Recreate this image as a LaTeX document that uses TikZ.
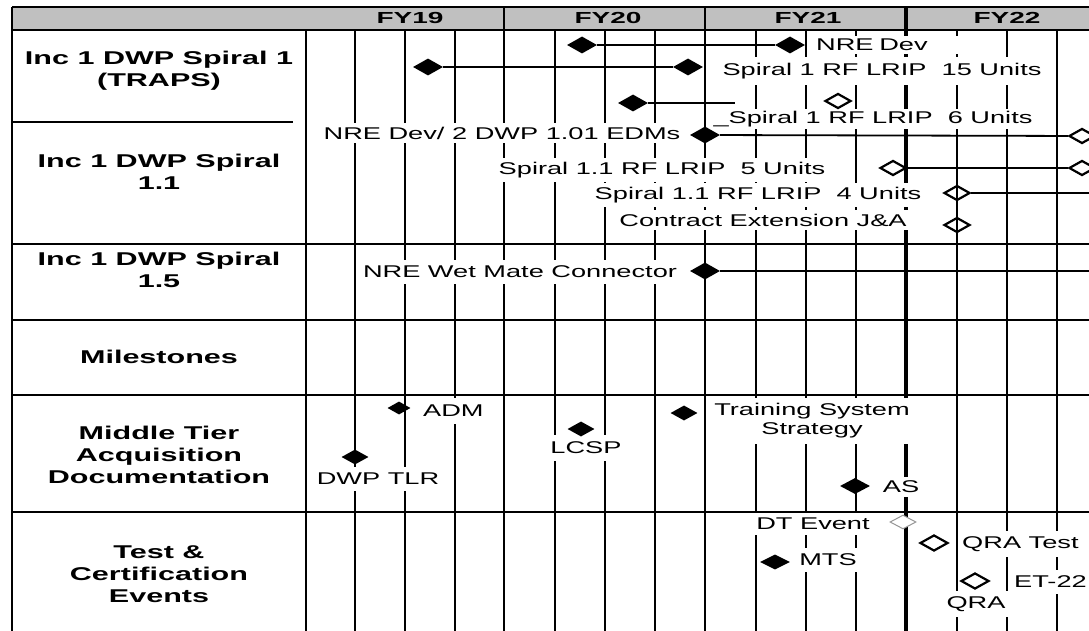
\documentclass[tikz,border=0pt]{standalone}
\usepackage{fontspec}
\setmainfont{Liberation Sans}
\newfontfamily\lblfam{Liberation Sans}[FakeStretch=1.6]
\newfontfamily\rowfam{Liberation Sans}[FakeStretch=1.65]
\newfontfamily\hdrfam{Liberation Sans}[FakeStretch=1.75]
\usetikzlibrary{shapes.geometric}
\definecolor{hdrgray}{RGB}{192,192,192}
\definecolor{dtgray}{RGB}{150,150,150}
\tikzset{
  thingrid/.style={line width=1.3pt},
  boldgrid/.style={line width=2.7pt},
  xboldgrid/.style={line width=4pt},
  rowline/.style={line width=1.3pt},
  fdia/.style={diamond, fill=black, inner sep=0pt, minimum width=30pt, minimum height=17pt},
  sdia/.style={diamond, fill=black, inner sep=0pt, minimum width=27pt, minimum height=15pt},
  odia/.style={diamond, draw=black, line width=2.2pt, inner sep=0pt, minimum width=26pt, minimum height=15pt},
  gdia/.style={diamond, draw=dtgray, fill=white, line width=1pt, inner sep=0pt, minimum width=26pt, minimum height=14pt},
  lbl/.style={font=\lblfam\fontsize{17}{19}\selectfont, fill=white, inner xsep=4pt, inner ysep=5pt, align=center},
  rowlbl/.style={font=\rowfam\bfseries\fontsize{18.5}{22}\selectfont, align=center, inner sep=0pt},
  hdr/.style={font=\hdrfam\bfseries\fontsize{16}{18}\selectfont, inner sep=0pt},
  bar/.style={line width=1.8pt},
}
\begin{document}
\begin{tikzpicture}[x=1pt,y=-1pt]
\useasboundingbox (0,0) rectangle (1089,631);
\clip (0,0) rectangle (1089,631);
\fill[white] (0,0) rectangle (1089,631);
% header
\fill[hdrgray] (12,7) rectangle (1089,30);
\draw[thingrid] (12,7) -- (1089,7);
\draw[thingrid] (12,30) -- (1089,30);
\draw[thingrid] (12,7) -- (12,631);
% vertical grid
\foreach \x in {306,355,405,455,555,605,655,957,1007,1057}
  \draw[thingrid] (\x,30) -- (\x,631);
\foreach \x in {756,806,856}
  \draw[boldgrid] (\x,30) -- (\x,631);
\draw[boldgrid] (504,7) -- (504,631);
\draw[line width=2pt] (705,7) -- (705,30);
\draw[boldgrid] (705,30) -- (705,631);
\draw[xboldgrid] (906,7) -- (906,631);
% header labels
\node[hdr] (fy19) at (410,18) {FY19};
\node[hdr] (fy20) at (608,18) {FY20};
\node[hdr] (fy21) at (808,18) {FY21};
\node[hdr] (fy22) at (1007,18) {FY22};
% row labels
\node[rowlbl] (r1) at (159,71) {Inc 1 DWP Spiral 1\\(TRAPS)};
\node[rowlbl] (r2) at (159,172) {Inc 1 DWP Spiral\\1.1};
\node[rowlbl] (r3) at (159,270) {Inc 1 DWP Spiral\\1.5};
\node[rowlbl] (r4) at (159,357) {Milestones};
\node[rowlbl] (r5) at (159,455) {Middle Tier\\Acquisition\\Documentation};
\node[rowlbl] (r6) at (159,574) {Test \&\\Certification\\Events};
% labels (white boxes hide the grid)
\node[lbl, inner ysep=6pt] (l15) at (882,71) {Spiral 1 RF LRIP\ \ 15 Units};
\node[lbl, anchor=west, inner ysep=3pt, text width=150pt, align=left] (lNRE) at (812,45) {NRE Dev};
\node[lbl, inner ysep=2pt] (l6) at (873,119) {\_Spiral 1 RF LRIP\ \ 6 Units};
\node[lbl, inner xsep=12pt, inner ysep=4pt] (lEDM) at (502,133) {NRE Dev/ 2 DWP 1.01 EDMs};
\node[lbl, inner ysep=4pt] (l5) at (662,170) {Spiral 1.1 RF LRIP\ \ 5 Units};
\node[lbl, inner ysep=4pt] (l4) at (758,195) {Spiral 1.1 RF LRIP\ \ 4 Units};
\node[lbl, inner ysep=4pt] (lCE) at (763,220) {Contract Extension J\&A};
\node[lbl, inner ysep=6pt] (lWM) at (520,272) {NRE Wet Mate Connector};
\node[lbl, anchor=west, inner ysep=7pt] (lADM) at (419,411) {ADM};
\node[lbl, inner ysep=6pt] (lTLR) at (378,479) {DWP TLR};
\node[lbl, inner ysep=7pt] (lLCSP) at (586,448) {LCSP};
\node[lbl, inner ysep=6pt] (lTSS) at (812,421) {Training System\\Strategy};
\node[lbl, inner ysep=4pt] (lAS) at (901,487) {AS};
\node[lbl, inner ysep=5pt] (lDT) at (813,524) {DT Event};
\node[lbl, inner ysep=6pt] (lMTS) at (828,560) {MTS};
\node[lbl, anchor=west, inner ysep=5pt, inner xsep=3pt] (lQT) at (959,544) {QRA Test};
\node[lbl, anchor=west, inner ysep=6pt, inner xsep=2pt] (lET) at (1012,582) {ET-22};
\node[lbl, inner ysep=5pt] (lQRA) at (976,604) {QRA};
% row dividers
\draw[rowline] (12,122) -- (293,122);
\draw[rowline] (12,244) -- (1089,244);
\draw[line width=2pt] (12,320) -- (1089,320);
\draw[rowline] (12,395) -- (1089,395);
\draw[rowline] (12,512) -- (1089,512);
% row 1 milestones
\node[fdia] (dA1) at (582,45) {};
\node[fdia] (dA2) at (790,45) {};
\node[fdia] (dB1) at (428,67) {};
\node[fdia] (dB2) at (688,67) {};
\node[fdia] (dC1) at (633,103) {};
\coordinate (cC) at (735,103);
\node[odia] (oC) at (838,101) {};
\draw[bar] (dA1) -- (dA2);
\draw[bar] (dB1) -- (dB2);
\draw[bar] (dC1) -- (cC);
% row 2
\node[fdia] (dE) at (705,135) {};
\node[odia] (oE) at (1082,136) {};
\draw[bar] (dE) -- (oE);
\node[odia] (o5a) at (893,168) {};
\node[odia] (o5b) at (1082,168) {};
\draw[bar] (o5a) -- (o5b);
\node[odia] (o4) at (957,193) {};
\coordinate (c4) at (1095,193);
\draw[bar] (o4) -- (c4);
\node[odia] (oCE) at (957,225) {};
% row 3
\node[fdia] (dW) at (705,271) {};
\coordinate (cW) at (1095,271);
\draw[bar] (dW) -- (cW);
% row 5
\node[sdia, minimum width=23pt, minimum height=13pt] (dADM) at (399,408) {};
\node[sdia] (dTLR) at (355,457) {};
\node[sdia] (dLCSP) at (581,429) {};
\node[sdia] (dTSS) at (684,413) {};
\node[fdia, minimum height=16pt] (dAS) at (855,486) {};
% row 6
\node[gdia] (dDT) at (903,522) {};
\node[odia, minimum width=28pt, minimum height=16pt] (oQT) at (934,543) {};
\node[sdia, minimum width=30pt] (dMTS) at (775,562) {};
\node[odia, minimum width=28pt, minimum height=16pt] (oQRA) at (975,581) {};
\end{tikzpicture}
\end{document}
